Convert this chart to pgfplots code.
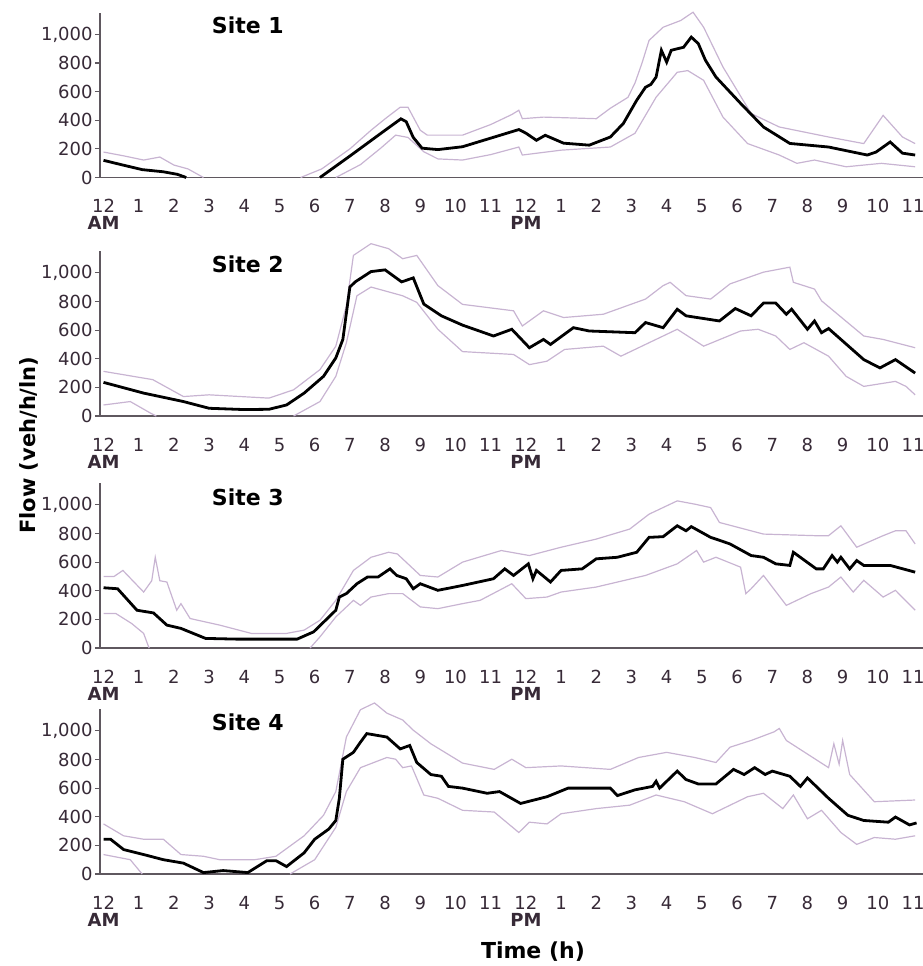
\documentclass[border=0pt]{standalone}
\usepackage{fontspec}
\setmainfont{DejaVu Sans}
\usepackage{pgfplots}
\pgfplotsset{compat=1.18}

\definecolor{bandc}{RGB}{200,180,210}
\definecolor{axc}{RGB}{95,88,95}
\definecolor{tickc}{RGB}{55,42,55}

\pgfplotsset{
  sitepanel/.style={
    scale only axis,
    width=411.8pt, height=82.3pt,
    xmin=-0.1, xmax=23.3,
    ymin=0, ymax=1150,
    axis lines=left,
    axis line style={-, draw=axc, line width=0.8pt},
    clip=false,
    xtick={0,...,23},
    xticklabels={12\\\textbf{AM},1,2,3,4,5,6,7,8,9,10,11,12\\\textbf{PM},1,2,3,4,5,6,7,8,9,10,11},
    xtick style={draw=none},
    xticklabel style={align=center, font=\fontsize{9}{8.5}\selectfont, text=tickc, yshift=-5pt},
    ytick={0,200,400,600,800,1000},
    yticklabels={0,200,400,600,800,{1,000}},
    ytick style={draw=axc, line width=0.6pt},
    tick align=outside,
    major tick length=2.5pt,
    yticklabel style={font=\fontsize{9}{10}\selectfont, text=tickc, inner sep=1pt},
  },
  mean/.style={black, line width=1.4pt},
  band/.style={bandc, line width=0.6pt},
}

\begin{document}
\begin{tikzpicture}
\useasboundingbox (-50pt,-394.25pt) rectangle (411.5pt,88.75pt);

% ---------------- Site 1
\begin{axis}[sitepanel, at={(0pt,0pt)}, anchor=south west]
  \addplot[band] coordinates {(0,178) (0.6,150) (1.14,122) (1.6,143) (2.0,87) (2.4,60) (2.84,0)};
  \addplot[band] coordinates {(5.6,0) (6.2,60) (7.0,200) (7.6,330) (8.0,410) (8.43,491) (8.65,491) (9.0,330) (9.2,296) (10.2,296) (11.0,370) (11.6,440) (11.8,470) (11.9,411) (12.5,422) (14.0,411) (14.4,484) (14.9,560) (15.1,660) (15.3,800) (15.5,958) (15.9,1050) (16.4,1097) (16.75,1155) (17.05,1050) (17.6,772) (18.4,447) (19.2,353) (20.6,283) (21.6,237) (22.15,434) (22.7,283) (23.06,237)};
  \addplot[band] coordinates {(6.6,0) (7.3,90) (7.9,210) (8.3,296) (8.65,280) (9.1,180) (9.5,130) (10.2,122) (11.0,160) (11.8,213) (11.9,157) (13.0,191) (14.4,213) (15.1,309) (15.7,561) (16.3,735) (16.6,747) (17.05,679) (17.6,422) (18.3,237) (19.2,157) (19.7,99) (20.2,122) (21.1,75) (22.1,99) (23.06,75)};
  \addplot[mean] coordinates {(0,120) (0.5,90) (1.1,55) (1.7,40) (2.1,22) (2.35,0)};
  \addplot[mean] coordinates {(6.15,0) (7.0,150) (7.5,240) (8.0,330) (8.45,410) (8.6,390) (8.8,280) (9.05,205) (9.5,195) (10.2,215) (11.0,275) (11.8,335) (12.0,310) (12.3,260) (12.55,295) (13.07,240) (13.8,226) (14.4,283) (14.77,378) (15.15,540) (15.4,631) (15.55,650) (15.7,702) (15.85,889) (16.0,806) (16.13,889) (16.48,910) (16.7,981) (16.9,935) (17.1,820) (17.4,702) (18.1,518) (18.75,353) (19.5,238) (20.6,213) (21.7,157) (21.95,178) (22.35,248) (22.7,170) (23.06,157)};
  \node[font=\bfseries\fontsize{11}{13}\selectfont] at (axis cs:4.1,1060) {Site 1};
\end{axis}

% ---------------- Site 2
\begin{axis}[sitepanel, at={(0pt,-119.25pt)}, anchor=south west]
  \addplot[band] coordinates {(0,312) (1.4,254) (2.27,136) (3.0,148) (4.7,125) (5.4,183) (6.15,324) (6.6,488) (6.9,770) (7.1,1122) (7.6,1204) (8.1,1169) (8.5,1099) (8.9,1122) (9.5,911) (10.2,780) (11.65,735) (11.9,629) (12.5,735) (13.07,688) (14.2,711) (15.4,817) (15.9,911) (16.1,934) (16.55,841) (17.25,817) (17.8,923) (18.75,1005) (19.5,1040) (19.6,934) (20.2,887) (20.4,805) (21.6,559) (22.15,535) (23.06,477)};
  \addplot[band] coordinates {(0,77) (0.76,101) (1.33,21) (1.5,0)};
  \addplot[band] coordinates {(5.4,0) (6.15,101) (6.6,277) (6.9,512) (7.2,840) (7.6,901) (8.5,840) (8.9,794) (9.5,606) (10.2,450) (11.65,430) (12.1,359) (12.6,383) (13.1,465) (14.2,488) (14.7,418) (15.1,465) (15.5,512) (16.3,606) (17.05,488) (18.1,594) (18.6,606) (19.1,559) (19.5,465) (19.9,512) (20.6,418) (21.1,277) (21.6,207) (22.5,242) (22.8,207) (23.06,148)};
  \addplot[mean] coordinates {(0,235) (1.14,160) (2.27,101) (3.0,54) (4.0,45) (4.7,47) (5.2,77) (5.7,160) (6.25,277) (6.6,406) (6.8,535) (7.0,901) (7.15,937) (7.6,1009) (8.0,1021) (8.47,937) (8.8,965) (9.1,782) (9.6,700) (10.2,635) (11.08,559) (11.6,606) (12.1,477) (12.5,535) (12.7,500) (13.35,617) (13.8,594) (15.1,582) (15.4,653) (15.9,617) (16.3,746) (16.55,700) (17.5,664) (17.95,751) (18.4,700) (18.75,789) (19.1,789) (19.4,711) (19.55,746) (20.0,606) (20.2,664) (20.4,582) (20.6,611) (21.6,394) (22.06,336) (22.5,394) (23.06,300)};
  \node[font=\bfseries\fontsize{11}{13}\selectfont] at (axis cs:4.1,1060) {Site 2};
  \node[font=\bfseries\fontsize{10.5}{12}\selectfont, rotate=90] at (axis cs:-2.13,-204) {Flow (veh/h/ln)};
\end{axis}

% ---------------- Site 3
\begin{axis}[sitepanel, at={(0pt,-235.25pt)}, anchor=south west]
  \addplot[band] coordinates {(0,500) (0.3,500) (0.55,542) (1.14,391) (1.37,470) (1.47,634) (1.6,470) (1.8,461) (2.08,264) (2.2,310) (2.46,206) (3.3,160) (4.2,102) (5.2,102) (5.7,125) (6.15,194) (6.6,333) (7.1,542) (7.6,634) (8.1,669) (8.35,657) (9.0,507) (9.5,496) (10.2,600) (11.3,681) (12.1,646) (13.0,704) (14.0,761) (14.95,831) (15.5,935) (16.3,1028) (16.8,1005) (17.25,981) (17.5,877) (18.75,796) (20.2,785) (20.6,785) (20.95,854) (21.4,704) (22.15,785) (22.5,819) (22.8,819) (23.06,727)};
  \addplot[band] coordinates {(0,241) (0.35,241) (0.8,171) (1.14,102) (1.28,9) (1.3,0)};
  \addplot[band] coordinates {(5.87,0) (6.15,78) (6.6,217) (7.1,333) (7.3,298) (7.6,356) (8.1,380) (8.5,380) (9.0,287) (9.5,275) (10.2,310) (10.7,333) (11.6,449) (12.0,345) (12.6,356) (13.0,391) (14.0,426) (15.4,507) (16.3,588) (16.85,681) (17.05,600) (17.4,634) (18.1,565) (18.25,380) (18.4,414) (18.75,507) (19.4,298) (20.1,380) (20.6,426) (20.95,496) (21.3,391) (21.6,473) (22.15,356) (22.5,403) (23.06,264)};
  \addplot[mean] coordinates {(0,421) (0.4,414) (0.95,264) (1.42,245) (1.8,160) (2.2,137) (2.9,67) (3.8,62) (5.5,62) (5.97,113) (6.6,264) (6.7,356) (6.9,380) (7.2,449) (7.5,496) (7.8,496) (8.14,553) (8.33,507) (8.6,484) (8.8,414) (9.0,449) (9.5,403) (10.2,437) (11.08,484) (11.4,553) (11.65,507) (12.07,588) (12.2,484) (12.3,542) (12.7,461) (13.0,542) (13.6,553) (14.0,623) (14.6,634) (15.15,669) (15.5,773) (15.9,778) (16.3,854) (16.55,819) (16.7,848) (17.25,773) (17.4,761) (17.8,727) (18.4,646) (18.75,634) (19.1,588) (19.5,577) (19.6,669) (20.25,553) (20.45,553) (20.7,646) (20.85,600) (20.95,634) (21.2,553) (21.4,611) (21.6,577) (22.35,577) (23.06,530)};
  \node[font=\bfseries\fontsize{11}{13}\selectfont] at (axis cs:4.1,1050) {Site 3};
\end{axis}

% ---------------- Site 4
\begin{axis}[sitepanel, at={(0pt,-348.25pt)}, anchor=south west]
  \addplot[band] coordinates {(0,350) (0.57,267) (1.14,243) (1.7,243) (2.2,136) (2.84,124) (3.3,100) (4.3,100) (4.9,124) (5.7,267) (6.25,410) (6.6,576) (6.9,957) (7.3,1148) (7.7,1195) (8.05,1124) (8.5,1076) (8.8,1005) (9.3,910) (10.2,775) (11.1,731) (11.6,802) (12.0,743) (13.0,755) (14.4,731) (15.2,814) (16.0,850) (16.8,814) (17.4,779) (17.8,886) (18.4,933) (19.05,993) (19.2,1017) (19.4,933) (20.6,743) (20.75,910) (20.9,767) (21.0,933) (21.2,695) (21.9,505) (23.06,517)};
  \addplot[band] coordinates {(0,136) (0.76,100) (1.04,17) (1.1,0)};
  \addplot[band] coordinates {(5.3,0) (6.0,100) (6.6,326) (6.9,576) (7.3,743) (8.05,814) (8.3,802) (8.5,743) (8.75,755) (9.1,552) (9.5,529) (10.2,445) (11.1,433) (11.8,290) (12.1,362) (12.6,350) (13.0,421) (14.0,457) (14.95,481) (15.7,552) (16.5,505) (17.3,421) (18.3,540) (18.75,564) (19.3,457) (19.6,552) (20.0,386) (20.4,445) (20.95,290) (21.4,207) (21.9,255) (22.5,243) (23.06,267)};
  \addplot[mean] coordinates {(0,243) (0.2,243) (0.57,171) (1.14,136) (1.7,100) (2.27,76) (2.84,10) (3.4,24) (4.1,10) (4.64,93) (4.9,93) (5.2,52) (5.7,148) (6.0,243) (6.4,314) (6.6,374) (6.7,529) (6.8,802) (7.1,850) (7.3,921) (7.48,981) (8.05,957) (8.43,874) (8.7,898) (8.9,779) (9.3,695) (9.6,683) (9.8,612) (10.2,600) (10.9,564) (11.25,576) (11.85,493) (12.6,540) (13.2,600) (14.4,600) (14.6,548) (15.1,588) (15.6,612) (15.7,648) (15.8,600) (16.3,719) (16.55,660) (16.9,629) (17.4,629) (17.9,731) (18.2,695) (18.5,743) (18.8,695) (19.0,719) (19.5,683) (19.8,612) (20.0,671) (20.6,529) (21.15,410) (21.6,374) (22.3,362) (22.5,398) (22.9,343) (23.1,357)};
  \node[font=\bfseries\fontsize{11}{13}\selectfont] at (axis cs:4.1,1060) {Site 4};
  \node[font=\bfseries\fontsize{11}{13}\selectfont] at (axis cs:12.2,-543) {Time (h)};
\end{axis}
\end{tikzpicture}
\end{document}
